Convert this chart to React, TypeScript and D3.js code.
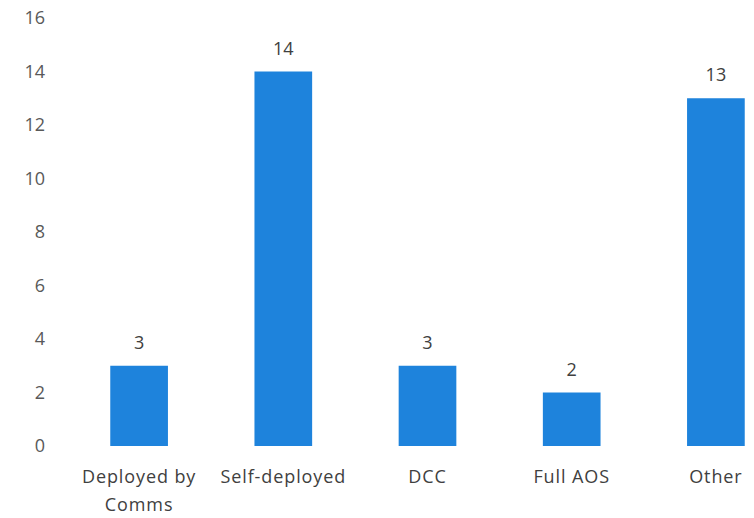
import React from "react";
import * as d3 from "d3";

const categories: string[][] = [["Deployed by", "Comms"], ["Self-deployed"], ["DCC"], ["Full AOS"], ["Other"]];
const values: number[] = [3, 14, 3, 2, 13];
const yTicks: number[] = [0, 2, 4, 6, 8, 10, 12, 14, 16];

const W = 754;
const H = 518;

export default function App() {
  const keys = categories.map((c) => c.join(" "));
  const x = d3.scaleBand<string>().domain(keys).range([67, 788]).paddingInner(0.6).paddingOuter(0.3);
  const y = d3.scaleLinear().domain([0, 16]).range([446, 18]);
  const font = "'Open Sans', sans-serif";
  return (
    <svg width={W} height={H} style={{ position: "absolute", left: 0, top: 0, background: "#fff" }}>
      <rect x={0} y={0} width={W} height={H} fill="#fff" />
      {yTicks.map((t) => (
        <text key={t} x={45} y={y(t)} dy="0.36em" textAnchor="end" fontSize={18} fill="#595959" fontFamily={font}>
          {t}
        </text>
      ))}
      {values.map((v, i) => {
        const k = keys[i];
        const bx = x(k)!;
        const bw = x.bandwidth();
        return (
          <g key={k}>
            <rect x={bx} y={y(v)} width={bw} height={y(0) - y(v)} fill="#1E83DC" />
            <text x={bx + bw / 2} y={y(v) - 17} textAnchor="middle" fontSize={18} fill="#404040" fontFamily={font}>
              {v}
            </text>
            {categories[i].map((line, j) => (
              <text key={j} x={bx + bw / 2} y={483 + j * 28} textAnchor="middle" fontSize={18} letterSpacing={0.9} fill="#404040" fontFamily={font}>
                {line}
              </text>
            ))}
          </g>
        );
      })}
    </svg>
  );
}
